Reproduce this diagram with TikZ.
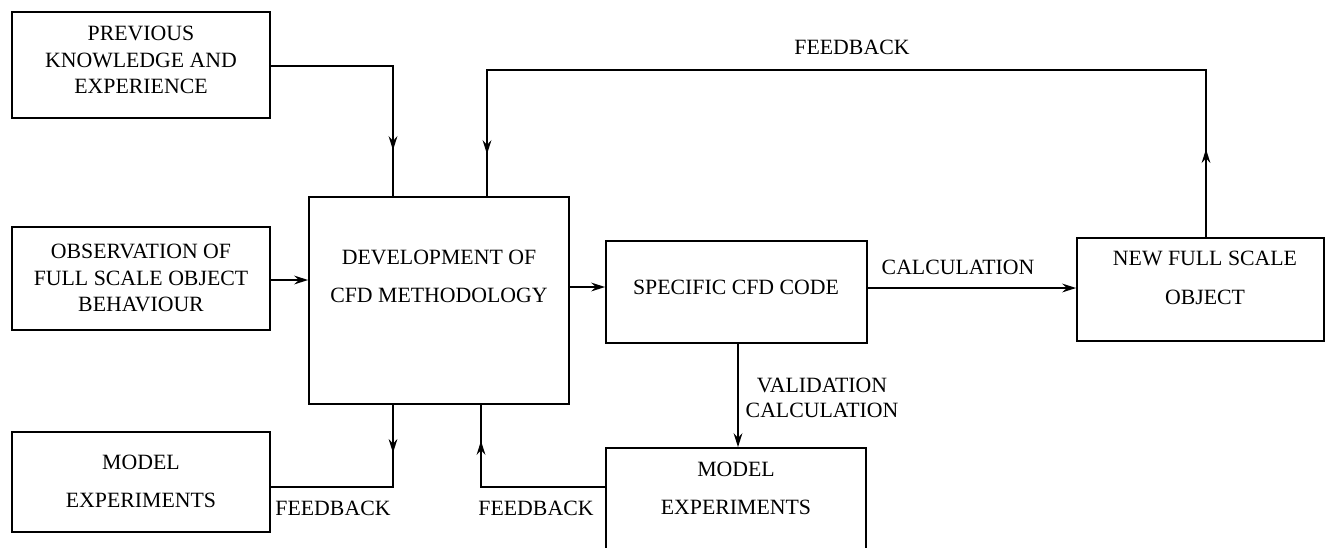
\documentclass[tikz,border=0pt]{standalone}
\usepackage{fontspec}
\setmainfont{Liberation Serif}
\usetikzlibrary{arrows.meta,decorations.markings}

\tikzset{
  >={Stealth[length=7pt,width=4.4pt,inset=2.4pt]},
  blk/.style={draw, line width=0.9pt, inner sep=0pt},
  txt/.style={align=center, inner sep=0pt, font=\fontsize{10.9}{13.3}\selectfont},
  conn/.style={line width=0.8pt},
  arrowat/.style={postaction={decorate,
      decoration={markings, mark=at position #1 with {\arrow{>}}}}},
}

\begin{document}
\begin{tikzpicture}[x=0.5pt, y=-0.5pt]
    \useasboundingbox (0,0) rectangle (1327,547);

    % boxes
    \node[blk, minimum width=129pt, minimum height=53pt] (prev) at (141,65) {};
    \node[blk, minimum width=129pt, minimum height=51.5pt] (obs) at (141,278.5) {};
    \node[blk, minimum width=129pt, minimum height=50pt] (moda) at (141,482) {};
    \node[blk, minimum width=130pt, minimum height=103.5pt] (dev) at (439,300.5) {};
    \node[blk, minimum width=130.5pt, minimum height=51pt] (spec) at (736.5,292) {};
    \node[blk, minimum width=123.5pt, minimum height=51.5pt] (new) at (1200.5,289.5) {};
    \node[blk, minimum width=130pt, minimum height=52pt] (modb) at (736,500) {};

    % box texts
    \node[txt] (prevtxt) at (141,60) {PREVIOUS\\KNOWLEDGE AND\\EXPERIENCE};
    \node[txt] (obstxt) at (141,278) {OBSERVATION OF\\FULL SCALE OBJECT\\BEHAVIOUR};
    \node[txt] (modatxt) at (141,481) {MODEL\\[5.7pt]EXPERIMENTS};
    \node[txt] (devtxt) at (439,276) {DEVELOPMENT OF\\[5.7pt]CFD METHODOLOGY};
    \node[txt] (spectxt) at (736,287) {SPECIFIC CFD CODE};
    \node[txt] (newtxt) at (1205,278) {NEW FULL SCALE\\[6.2pt]OBJECT};
    \node[txt] (modbtxt) at (736,488) {MODEL\\[5.7pt]EXPERIMENTS};

    % knees of the connectors
    \coordinate (kin) at (393,66);
    \coordinate (fbl) at (487,70);
    \coordinate (fbr) at (1206,70);
    \coordinate (kout) at (393,487);
    \coordinate (kret) at (481,487);
    \coordinate (lvl) at (0,287);
    \coordinate (clc) at (0,288);
    \coordinate (vcal) at (738,0);

    \draw[conn, arrowat=-23pt] (prev.east |- kin) -- (kin) -- (kin |- dev.north);
    \draw[conn, arrowat=44pt, arrowat=-21pt]
        (fbr |- new.north) -- (fbr) -- (fbl) -- (fbl |- dev.north);
    \draw[conn, ->] (obs.east |- 0,280) -- (dev.west |- 0,280);
    \draw[conn, ->] (dev.east |- lvl) -- (spec.west |- lvl);
    \draw[conn, ->] (spec.east |- clc) -- (new.west |- clc);
    \draw[conn, ->] (vcal |- spec.south) -- (vcal |- modb.north);
    \draw[conn, arrowat=24pt] (kout |- dev.south) -- (kout) -- (kout -| moda.east);
    \draw[conn, arrowat=-18pt] (kret -| modb.west) -- (kret) -- (kret |- dev.south);

    % connector labels
    \node[txt] (fbtop) at (852,47) {FEEDBACK};
    \node[txt] (calc) at (958,267) {CALCULATION};
    \node[txt] (valid) at (822,398) {VALIDATION\\[-0.8pt]CALCULATION};
    \node[txt] (fbout) at (333,508) {FEEDBACK};
    \node[txt] (fbret) at (536,508) {FEEDBACK};
\end{tikzpicture}
\end{document}
